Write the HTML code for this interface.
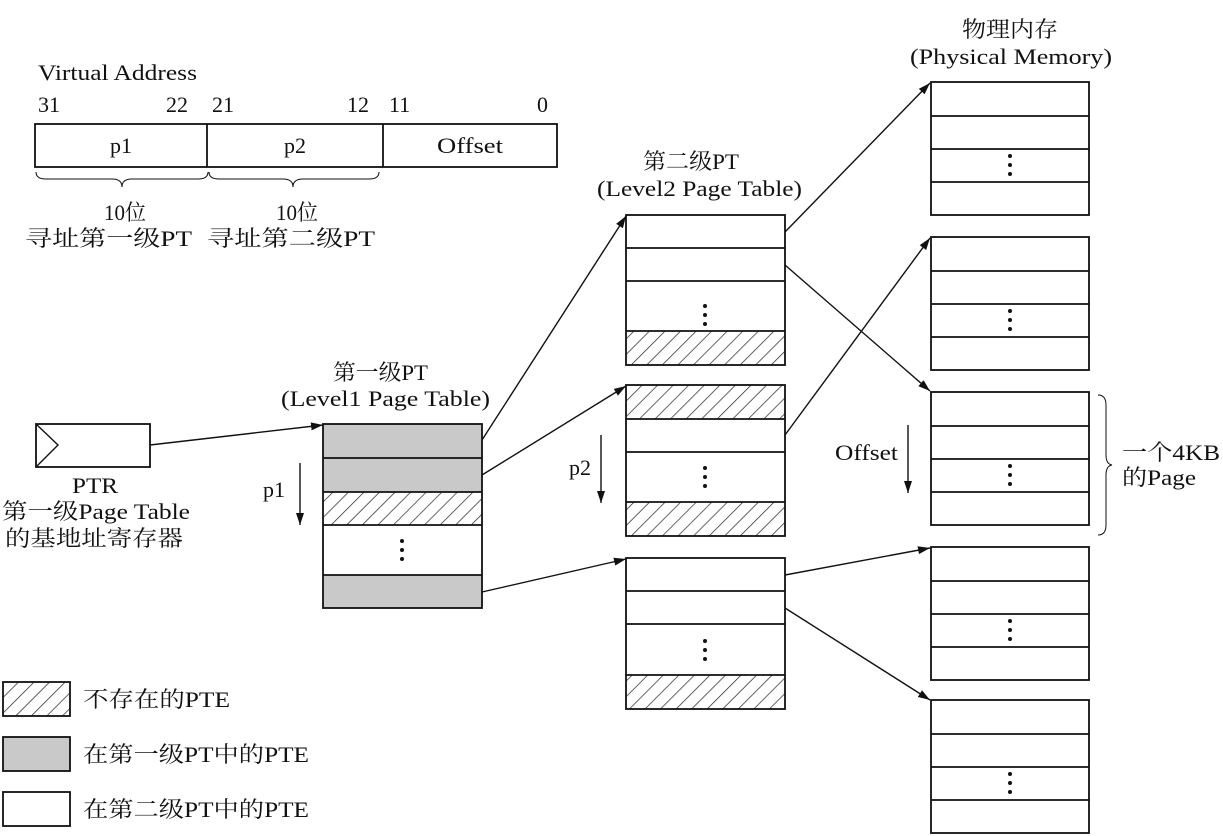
<!DOCTYPE html>
<html><head><meta charset="utf-8"><style>
body{margin:0;background:#fff;}
svg{display:block;}
text{font-family:"Liberation Serif","Noto Serif CJK SC","Noto Sans CJK SC",serif;fill:#111;}
</style></head><body>
<svg width="1223" height="836" viewBox="0 0 1223 836" xmlns="http://www.w3.org/2000/svg">
<defs>
<pattern id="h" patternUnits="userSpaceOnUse" width="11" height="11" patternTransform="rotate(45)">
<rect width="11" height="11" fill="#fff"/><line x1="0" y1="0" x2="0" y2="11" stroke="#222" stroke-width="1.4"/>
</pattern>
<marker id="a" markerWidth="12" markerHeight="8" refX="12" refY="4" orient="auto" markerUnits="userSpaceOnUse">
<path d="M0,0 L12,4 L0,8 Z" fill="#111"/></marker>
</defs>
<g stroke="#111" stroke-width="1.8" fill="none">
<rect x="35" y="124" width="522" height="43" fill="#fff"/>
<line x1="207" y1="124" x2="207" y2="167"/><line x1="383" y1="124" x2="383" y2="167"/>
<path d="M36,172 q0,7 10,7 h66 q10,0 10,8 q0,-8 10,-8 h66 q10,0 10,-7" stroke-width="1"/>
<path d="M209,172 q0,7 10,7 h64 q10,0 10,8 q0,-8 10,-8 h66 q10,0 10,-7" stroke-width="1"/>
<rect x="36" y="424" width="114" height="43" fill="#fff"/>
<path d="M36,424 L58,445 L36,467" stroke-width="1.4"/>
<rect x="323" y="424" width="159" height="68" fill="#c9c9c9" stroke="none"/>
<rect x="323" y="492" width="159" height="33" fill="url(#h)" stroke="none"/>
<rect x="323" y="575" width="159" height="33" fill="#c9c9c9" stroke="none"/>
<rect x="323" y="424" width="159" height="184"/>
<line x1="323" y1="458" x2="482" y2="458"/><line x1="323" y1="492" x2="482" y2="492"/>
<line x1="323" y1="525" x2="482" y2="525"/><line x1="323" y1="575" x2="482" y2="575"/>
<rect x="626" y="331" width="159" height="34" fill="url(#h)" stroke="none"/>
<rect x="626" y="215" width="159" height="150"/>
<line x1="626" y1="248" x2="785" y2="248"/><line x1="626" y1="281" x2="785" y2="281"/><line x1="626" y1="331" x2="785" y2="331"/>
<rect x="626" y="385" width="159" height="34" fill="url(#h)" stroke="none"/>
<rect x="626" y="502" width="159" height="34" fill="url(#h)" stroke="none"/>
<rect x="626" y="385" width="159" height="151"/>
<line x1="626" y1="419" x2="785" y2="419"/><line x1="626" y1="452" x2="785" y2="452"/><line x1="626" y1="502" x2="785" y2="502"/>
<rect x="626" y="675" width="159" height="34" fill="url(#h)" stroke="none"/>
<rect x="626" y="558" width="159" height="151"/>
<line x1="626" y1="591" x2="785" y2="591"/><line x1="626" y1="624" x2="785" y2="624"/><line x1="626" y1="675" x2="785" y2="675"/>
<g id="pm">
<rect x="931" y="82" width="158" height="133"/>
<line x1="931" y1="116" x2="1089" y2="116"/><line x1="931" y1="149" x2="1089" y2="149"/><line x1="931" y1="182" x2="1089" y2="182"/>
</g>
<use href="#pm" y="155"/><use href="#pm" y="310"/><use href="#pm" y="465"/><use href="#pm" y="618"/>
<path d="M1098,395 q8,0 8,10 v50 q0,9 6,10 q-6,1 -6,10 v50 q0,10 -8,10" stroke-width="1"/>
<g stroke-width="1.4">
<line x1="150" y1="445" x2="323" y2="425" marker-end="url(#a)"/>
<line x1="482" y1="440" x2="626" y2="216" marker-end="url(#a)"/>
<line x1="482" y1="475" x2="626" y2="386" marker-end="url(#a)"/>
<line x1="482" y1="592" x2="626" y2="559" marker-end="url(#a)"/>
<line x1="785" y1="232" x2="930" y2="83" marker-end="url(#a)"/>
<line x1="785" y1="265" x2="930" y2="391" marker-end="url(#a)"/>
<line x1="785" y1="435" x2="930" y2="238" marker-end="url(#a)"/>
<line x1="785" y1="575" x2="930" y2="548" marker-end="url(#a)"/>
<line x1="785" y1="608" x2="930" y2="700" marker-end="url(#a)"/>
<line x1="300" y1="463" x2="300" y2="525" marker-end="url(#a)"/>
<line x1="601" y1="435" x2="601" y2="503" marker-end="url(#a)"/>
<line x1="908" y1="425" x2="908" y2="493" marker-end="url(#a)"/>
</g>
<rect x="3" y="682" width="67" height="34" fill="url(#h)"/>
<rect x="3" y="737" width="67" height="34" fill="#c9c9c9"/>
<rect x="3" y="792" width="67" height="34" fill="#fff"/>
</g>
<g fill="#111">
<g id="d"><circle cx="402" cy="541" r="2"/><circle cx="402" cy="550" r="2"/><circle cx="402" cy="559" r="2"/></g>
<use href="#d" x="303" y="-235"/><use href="#d" x="303" y="-73"/><use href="#d" x="303" y="100"/>
<use href="#d" x="608" y="-385"/><use href="#d" x="608" y="-230"/><use href="#d" x="608" y="-75"/><use href="#d" x="608" y="80"/><use href="#d" x="608" y="233"/>
</g>
<g font-size="22" lengthAdjust="spacingAndGlyphs">
<text x="38" y="80" textLength="159" lengthAdjust="spacingAndGlyphs">Virtual Address</text>
<text x="38" y="112">31</text><text x="166" y="112">22</text>
<text x="212" y="112">21</text><text x="347" y="112">12</text>
<text x="389" y="112">11</text><text x="537" y="112">0</text>
<text x="121" y="153" text-anchor="middle">p1</text>
<text x="295" y="153" text-anchor="middle">p2</text>
<text x="437" y="153" textLength="66" lengthAdjust="spacingAndGlyphs">Offset</text>
<text x="104" y="220" textLength="42" lengthAdjust="spacingAndGlyphs">10位</text>
<text x="25" y="246" textLength="167" lengthAdjust="spacingAndGlyphs">寻址第一级PT</text>
<text x="276" y="220" textLength="42" lengthAdjust="spacingAndGlyphs">10位</text>
<text x="207" y="246" textLength="168" lengthAdjust="spacingAndGlyphs">寻址第二级PT</text>
<text x="72" y="493" textLength="46" lengthAdjust="spacingAndGlyphs">PTR</text>
<text x="2" y="519" textLength="188" lengthAdjust="spacingAndGlyphs">第一级Page Table</text>
<text x="5" y="546" textLength="178" lengthAdjust="spacingAndGlyphs">的基地址寄存器</text>
<text x="333" y="380" textLength="95" lengthAdjust="spacingAndGlyphs">第一级PT</text>
<text x="281" y="406" textLength="209" lengthAdjust="spacingAndGlyphs">(Level1 Page Table)</text>
<text x="643" y="169" textLength="96" lengthAdjust="spacingAndGlyphs">第二级PT</text>
<text x="597" y="196" textLength="205" lengthAdjust="spacingAndGlyphs">(Level2 Page Table)</text>
<text x="962" y="37" textLength="96" lengthAdjust="spacingAndGlyphs">物理内存</text>
<text x="910" y="64" textLength="202" lengthAdjust="spacingAndGlyphs">(Physical Memory)</text>
<text x="263" y="497">p1</text>
<text x="569" y="475">p2</text>
<text x="835" y="460" textLength="63" lengthAdjust="spacingAndGlyphs">Offset</text>
<text x="1122" y="460" textLength="98" lengthAdjust="spacingAndGlyphs">一个4KB</text>
<text x="1122" y="485" textLength="74" lengthAdjust="spacingAndGlyphs">的Page</text>
<text x="83" y="707" textLength="147" lengthAdjust="spacingAndGlyphs">不存在的PTE</text>
<text x="83" y="762" textLength="226" lengthAdjust="spacingAndGlyphs">在第一级PT中的PTE</text>
<text x="83" y="817" textLength="226" lengthAdjust="spacingAndGlyphs">在第二级PT中的PTE</text>
</g>
</svg>
</body></html>
